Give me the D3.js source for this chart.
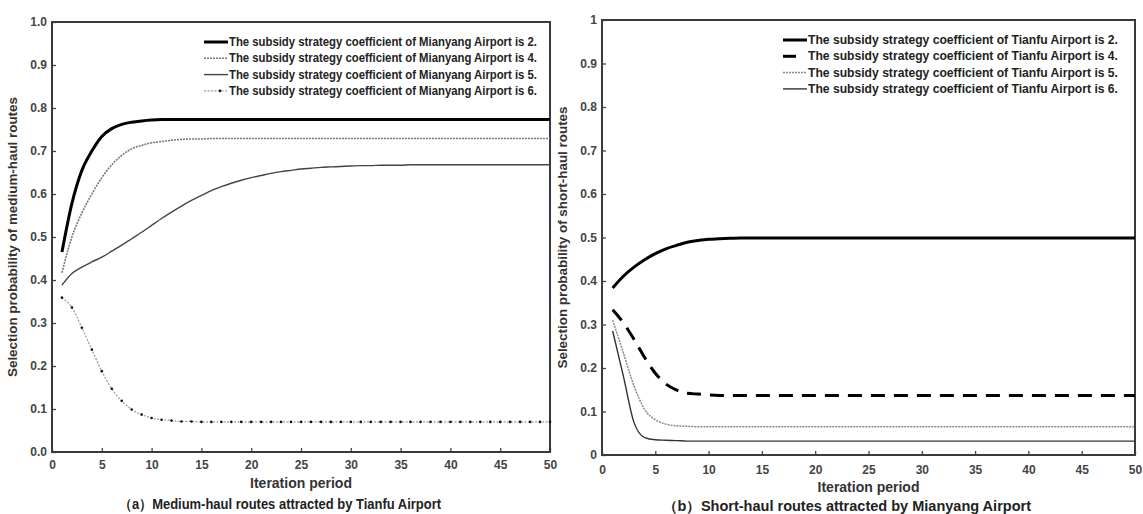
<!DOCTYPE html>
<html>
<head>
<meta charset="utf-8">
<script src="https://cdn.jsdelivr.net/npm/d3@7"></script>
<style>
  body { margin: 0; background: #fff; }
  svg text { font-family: "Liberation Sans", Arial, sans-serif; font-weight: bold; }
</style>
</head>
<body>
<div class="chart"></div>
<script>
// iteration periods (x)
var iterations = [1,2,3,4,5,6,7,8,9,10,11,12,13,14,15,16,17,18,19,20,
                  21,22,23,24,25,26,27,28,29,30,31,32,33,34,35,36,37,38,39,40,
                  41,42,43,44,45,46,47,48,49,50];

var xTicks = [0,5,10,15,20,25,30,35,40,45,50];
var yTicks = [0,0.1,0.2,0.3,0.4,0.5,0.6,0.7,0.8,0.9,1];
var leftYLabels = ["0.0","0.1","0.2","0.3","0.4","0.5","0.6","0.7","0.8","0.9","1.0"];
var rightYLabels = ["0","0.1","0.2","0.3","0.4","0.5","0.6","0.7","0.8","0.9","1"];

// (a) medium-haul routes attracted by Tianfu Airport
var mianyangCoef = ["2","4","5","6"];
var medium2 = [0.465,0.578,0.655,0.700,0.734,0.752,0.762,0.767,0.770,0.772,
               0.773,0.773,0.773,0.773,0.773,0.773,0.773,0.773,0.773,0.773,
               0.773,0.773,0.773,0.773,0.773,0.773,0.773,0.773,0.773,0.773,
               0.773,0.773,0.773,0.773,0.773,0.773,0.773,0.773,0.773,0.773,
               0.773,0.773,0.773,0.773,0.773,0.773,0.773,0.773,0.773,0.773];
var medium4 = [0.417,0.500,0.556,0.600,0.638,0.668,0.690,0.705,0.713,0.719,
               0.722,0.725,0.727,0.728,0.728,0.729,0.729,0.729,0.729,0.729,
               0.729,0.729,0.729,0.729,0.729,0.729,0.729,0.729,0.729,0.729,
               0.729,0.729,0.729,0.729,0.729,0.729,0.729,0.729,0.729,0.729,
               0.729,0.729,0.729,0.729,0.729,0.729,0.729,0.729,0.729,0.729];
var medium5 = [0.388,0.415,0.430,0.442,0.453,0.467,0.481,0.496,0.511,0.527,
               0.543,0.558,0.572,0.585,0.597,0.608,0.617,0.625,0.632,0.638,
               0.643,0.648,0.652,0.655,0.658,0.660,0.662,0.663,0.664,0.665,
               0.666,0.666,0.667,0.667,0.667,0.668,0.668,0.668,0.668,0.668,
               0.668,0.668,0.668,0.668,0.668,0.668,0.668,0.668,0.668,0.668];
var medium6 = [0.359,0.336,0.289,0.238,0.188,0.147,0.119,0.099,0.087,0.079,
               0.075,0.073,0.071,0.071,0.070,0.070,0.070,0.070,0.070,0.070,
               0.070,0.070,0.070,0.070,0.070,0.070,0.070,0.070,0.070,0.070,
               0.070,0.070,0.070,0.070,0.070,0.070,0.070,0.070,0.070,0.070,
               0.070,0.070,0.070,0.070,0.070,0.070,0.070,0.070,0.070,0.070];

// (b) short-haul routes attracted by Mianyang Airport
var tianfuCoef = ["2","4","5","6"];
var short2 = [0.384,0.411,0.432,0.449,0.463,0.474,0.482,0.489,0.493,0.496,
              0.497,0.498,0.499,0.499,0.499,0.499,0.499,0.499,0.499,0.499,
              0.499,0.499,0.499,0.499,0.499,0.499,0.499,0.499,0.499,0.499,
              0.499,0.499,0.499,0.499,0.499,0.499,0.499,0.499,0.499,0.499,
              0.499,0.499,0.499,0.499,0.499,0.499,0.499,0.499,0.499,0.499];
var short4 = [0.334,0.304,0.266,0.224,0.188,0.163,0.149,0.142,0.140,0.138,
              0.137,0.137,0.137,0.137,0.137,0.137,0.137,0.137,0.137,0.137,
              0.137,0.137,0.137,0.137,0.137,0.137,0.137,0.137,0.137,0.137,
              0.137,0.137,0.137,0.137,0.137,0.137,0.137,0.137,0.137,0.137,
              0.137,0.137,0.137,0.137,0.137,0.137,0.137,0.137,0.137,0.137];
var short5 = [0.310,0.235,0.159,0.105,0.081,0.071,0.067,0.066,0.065,0.065,
              0.065,0.065,0.065,0.065,0.065,0.065,0.065,0.065,0.065,0.065,
              0.065,0.065,0.065,0.065,0.065,0.065,0.065,0.065,0.065,0.065,
              0.065,0.065,0.065,0.065,0.065,0.065,0.065,0.065,0.065,0.065,
              0.065,0.065,0.065,0.065,0.065,0.065,0.065,0.065,0.065,0.065];
var short6 = [0.285,0.182,0.075,0.040,0.035,0.034,0.033,0.032,0.032,0.032,
              0.032,0.032,0.032,0.032,0.032,0.032,0.032,0.032,0.032,0.032,
              0.032,0.032,0.032,0.032,0.032,0.032,0.032,0.032,0.032,0.032,
              0.032,0.032,0.032,0.032,0.032,0.032,0.032,0.032,0.032,0.032,
              0.032,0.032,0.032,0.032,0.032,0.032,0.032,0.032,0.032,0.032];

var width = 1143, height = 514;

var svg = d3.select(".chart")
  .append("svg")
  .attr("width", width)
  .attr("height", height);

// line styles per series (thick, dotted, solid, dotted+markers / dashed)
var leftStyles = [
  {stroke: "#000", w: 3, dash: null},
  {stroke: "#777", w: 1.6, dash: "2,1"},
  {stroke: "#444", w: 1.4, dash: null},
  {stroke: "#999", w: 1.2, dash: "2,1.5", dots: true}
];
var rightStyles = [
  {stroke: "#000", w: 3, dash: null},
  {stroke: "#000", w: 3, dash: "14,9"},
  {stroke: "#888", w: 1.5, dash: "2,1"},
  {stroke: "#333", w: 1.4, dash: null}
];

var panels = [
  {
    left: 52, right: 550, top: 22, bottom: 452,
    series: [medium2, medium4, medium5, medium6],
    styles: leftStyles,
    yLabels: leftYLabels, xPad: 8,
    legend: mianyangCoef.map(c => "The subsidy strategy coefficient of Mianyang Airport is " + c + "."),
    legX: 204, legY: 42, legW: 308, legDash: [null, null, null, null],
    yTitle: "Selection probability of medium-haul routes", yTitleX: 13, yTitleW: 280,
    xTitleY: 488,
    caption: "（a）Medium-haul routes attracted by Tianfu Airport", capX: 280, capW: 322, capY: 509
  },
  {
    left: 602, right: 1135, top: 20, bottom: 455,
    series: [short2, short4, short5, short6],
    styles: rightStyles,
    yLabels: rightYLabels, xPad: 10,
    legend: tianfuCoef.map(c => "The subsidy strategy coefficient of Tianfu Airport is " + c + "."),
    legX: 783, legY: 40, legW: 310, legDash: [null, "13,40", null, null],
    yTitle: "Selection probability of short-haul routes", yTitleX: 563, yTitleW: 262,
    xTitleY: 492,
    caption: "（b）Short-haul routes attracted by Mianyang Airport", capX: 847, capW: 368, capY: 511
  }
];

panels.forEach(function(p) {
  var x = d3.scaleLinear().domain([0, 50]).range([p.left, p.right]);
  var y = d3.scaleLinear().domain([0, 1]).range([p.bottom, p.top]);

  var g = svg.append("g");

  // y axis, ticks pointing inward
  g.append("g")
    .attr("transform", "translate(" + p.left + ",0)")
    .call(d3.axisLeft(y).tickValues(yTicks)
      .tickFormat((d, i) => p.yLabels[i])
      .tickSizeInner(-4).tickSizeOuter(0).tickPadding(5))
    .call(a => a.select(".domain").remove())
    .call(a => a.selectAll("line").attr("stroke", "#444").attr("stroke-width", 1.3))
    .call(a => a.selectAll("text").attr("font-size", 12).attr("fill", "#444")
      .attr("font-family", null));

  // x axis
  g.append("g")
    .attr("transform", "translate(0," + p.bottom + ")")
    .call(d3.axisBottom(x).tickValues(xTicks)
      .tickSizeInner(-4).tickSizeOuter(0).tickPadding(p.xPad))
    .call(a => a.select(".domain").remove())
    .call(a => a.selectAll("line").attr("stroke", "#444").attr("stroke-width", 1.3))
    .call(a => a.selectAll("text").attr("font-size", 12).attr("fill", "#444")
      .attr("font-family", null));

  // frame
  g.append("rect")
    .attr("x", p.left).attr("y", p.top)
    .attr("width", p.right - p.left).attr("height", p.bottom - p.top)
    .attr("fill", "none").attr("stroke", "#3a3a3a").attr("stroke-width", 2);

  var line = d3.line()
    .x((d, i) => x(iterations[i]))
    .y(d => y(d))
    .curve(d3.curveMonotoneX);

  p.series.forEach(function(s, k) {
    var st = p.styles[k];
    g.append("path")
      .datum(s)
      .attr("d", line)
      .attr("fill", "none")
      .attr("stroke", st.stroke)
      .attr("stroke-width", st.w)
      .attr("stroke-dasharray", st.dash);
    if (st.dots) {
      g.append("g").selectAll("circle")
        .data(s)
        .enter()
        .append("circle")
        .attr("cx", (d, i) => x(iterations[i]))
        .attr("cy", d => y(d))
        .attr("r", 1.3)
        .attr("fill", "#111");
    }
  });

  // legend
  var leg = g.append("g");
  p.legend.forEach(function(label, k) {
    var st = p.styles[k];
    var ly = p.legY + k * 16.3;
    leg.append("line")
      .attr("x1", p.legX).attr("x2", p.legX + 24)
      .attr("y1", ly).attr("y2", ly)
      .attr("stroke", st.stroke)
      .attr("stroke-width", st.w)
      .attr("stroke-dasharray", p.legDash[k] || st.dash);
    if (st.dots) {
      leg.append("circle").attr("cx", p.legX + 16).attr("cy", ly).attr("r", 1.3).attr("fill", "#111");
    }
    leg.append("text")
      .attr("x", p.legX + 25)
      .attr("y", ly + 4)
      .attr("font-size", 12)
      .attr("fill", "#222")
      .attr("textLength", p.legW)
      .attr("lengthAdjust", "spacingAndGlyphs")
      .text(label);
  });

  // axis titles
  g.append("text")
    .attr("transform", "translate(" + p.yTitleX + "," + ((p.top + p.bottom) / 2) + ") rotate(-90)")
    .attr("text-anchor", "middle")
    .attr("dy", "0.35em")
    .attr("font-size", 12)
    .attr("fill", "#333")
    .attr("textLength", p.yTitleW)
    .attr("lengthAdjust", "spacingAndGlyphs")
    .text(p.yTitle);

  g.append("text")
    .attr("x", (p.left + p.right) / 2)
    .attr("y", p.xTitleY)
    .attr("text-anchor", "middle")
    .attr("font-size", 14)
    .attr("fill", "#333")
    .text("Iteration period");

  g.append("text")
    .attr("x", p.capX)
    .attr("y", p.capY)
    .attr("text-anchor", "middle")
    .attr("font-size", 14)
    .attr("fill", "#222")
    .attr("textLength", p.capW)
    .attr("lengthAdjust", "spacingAndGlyphs")
    .text(p.caption);
});
</script>
</body>
</html>
